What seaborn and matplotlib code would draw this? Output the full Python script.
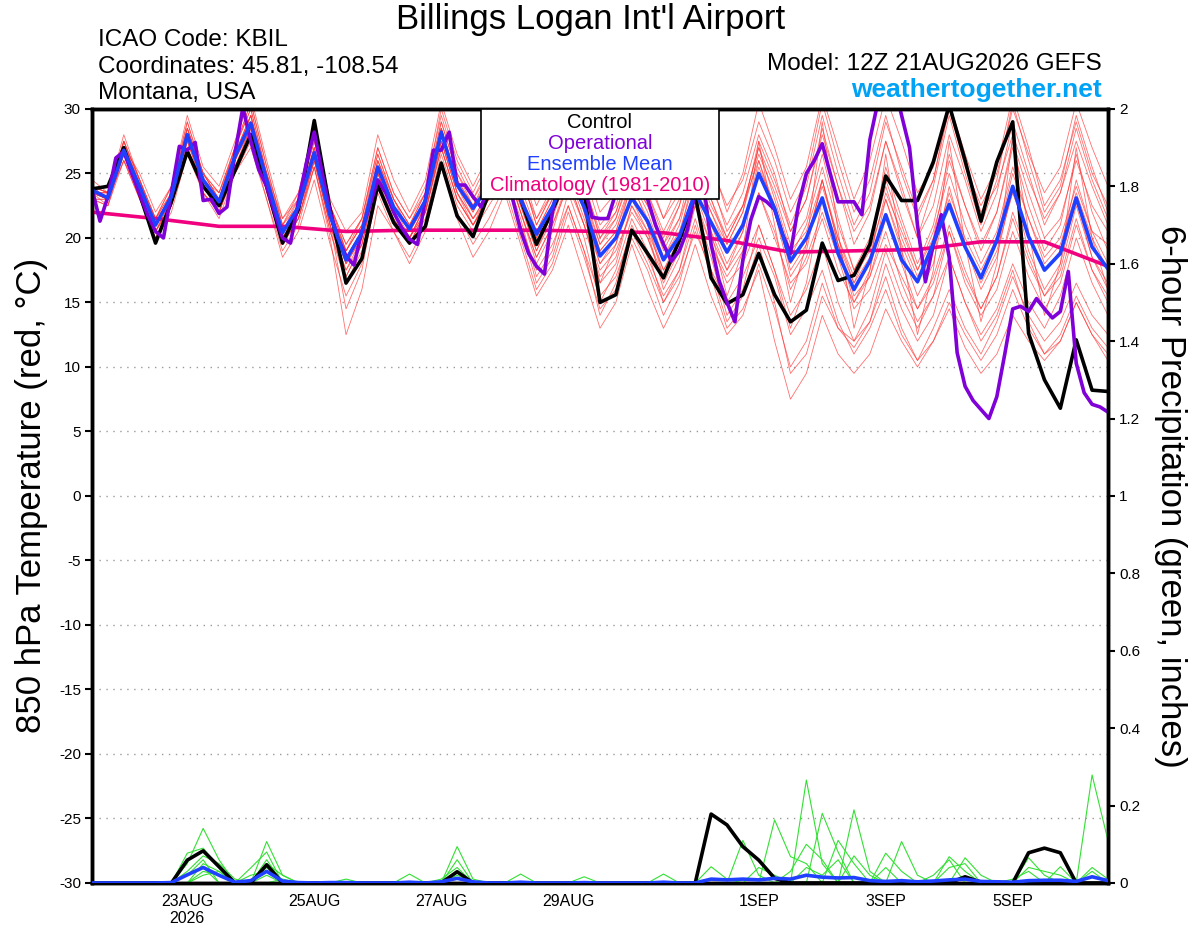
import numpy as np
import pandas as pd
import seaborn as sns
import matplotlib.pyplot as plt
from matplotlib.patches import Rectangle

# forecast hours from 12Z 21AUG2026, 6-hourly
hours = list(range(0, 385, 6))

control = [23.8, 24.0, 27.0, 23.4, 19.6, 22.8, 26.7, 24.0,
           22.5, 25.2, 28.0, 24.0, 19.6, 22.2, 29.1, 22.2,
           16.5, 18.4, 24.1, 21.2, 19.6, 20.9, 25.8, 21.7,
           20.1, 23.5, 26.0, 23.0, 19.5, 22.1, 25.0, 23.5,
           15.0, 15.6, 20.6, 18.8, 16.9, 19.8, 23.3, 16.9,
           14.9, 15.6, 18.8, 15.6, 13.5, 14.4, 19.6, 16.7,
           17.1, 19.5, 24.8, 22.9, 22.9, 25.9, 30.3, 26.0,
           21.3, 25.9, 29.0, 12.6, 9.0, 6.8, 12.1, 8.2,
           8.1]

ens_mean = [23.7, 23.1, 26.8, 24.0, 21.0, 23.2, 28.0, 24.5,
            22.8, 26.3, 28.9, 24.5, 20.4, 22.4, 26.6, 21.7,
            18.3, 20.4, 25.5, 22.4, 20.7, 22.9, 28.2, 24.1,
            22.3, 24.0, 26.0, 23.0, 20.3, 22.4, 25.0, 22.4,
            18.6, 20.0, 23.1, 21.3, 18.3, 20.1, 23.5, 21.2,
            18.9, 21.0, 25.0, 22.3, 18.2, 20.0, 23.1, 18.8,
            16.0, 18.2, 21.8, 18.3, 16.6, 19.6, 22.6, 19.3,
            16.9, 19.8, 24.0, 20.1, 17.5, 18.8, 23.1, 19.3,
            17.6]

# operational run (3-hourly output)
op_hours = [0, 3, 6, 9, 12, 15, 18, 21, 24, 27, 30, 33, 36, 39, 42, 45,
            48, 51, 54, 57, 60, 63, 66, 69, 72, 75, 78, 81, 84, 87, 90, 93,
            96, 99, 102, 105, 108, 111, 114, 117, 120, 123, 126, 129, 132, 135, 138, 141,
            144, 147, 150, 153, 156, 159, 162, 165, 168, 171, 174, 177, 180, 183, 186, 189,
            192, 195, 198, 201, 204, 207, 210, 213, 216, 219, 222, 225, 228, 231, 234, 237,
            240, 243, 246, 249, 252, 255, 258, 261, 264, 267, 270, 273, 276, 279, 282, 285,
            288, 291, 294, 297, 300, 303, 306, 309, 312, 315, 318, 321, 324, 327, 330, 333,
            336, 339, 342, 345, 348, 351, 354, 357, 360, 363, 366, 369, 372, 375, 378, 381,
            384]
op_temp = [23.8, 21.3, 23.2, 26.2, 26.7, 25.0, 23.4, 21.8, 20.5, 20.0, 23.5, 27.1, 26.8, 27.4, 22.9, 23.0,
           21.9, 22.4, 26.5, 30.1, 27.5, 25.3, 24.0, 22.0, 20.0, 19.6, 22.8, 25.8, 28.2, 25.0, 22.0, 20.0,
           18.6, 17.9, 20.5, 22.5, 24.5, 23.5, 22.0, 20.8, 19.9, 19.5, 23.0, 26.8, 26.8, 28.2, 24.1, 24.1,
           23.2, 22.4, 24.0, 25.5, 25.0, 23.0, 20.6, 18.8, 17.8, 17.2, 22.0, 25.0, 26.5, 26.0, 24.0, 21.6,
           21.5, 21.5, 23.5, 26.0, 27.0, 25.0, 23.0, 21.0, 19.5, 18.2, 19.0, 20.6, 23.5, 24.5, 19.5, 16.7,
           15.0, 13.5, 18.3, 21.4, 23.2, 22.8, 22.2, 20.3, 18.8, 22.5, 25.0, 26.0, 27.3, 25.0, 22.8, 22.8,
           22.8, 21.8, 27.6, 30.5, 33.0, 32.0, 29.5, 27.0, 21.0, 16.6, 19.5, 21.8, 18.5, 11.1, 8.5, 7.4,
           6.7, 6.0, 7.7, 11.0, 14.5, 14.7, 14.3, 15.3, 14.5, 13.8, 14.3, 17.4, 10.3, 8.0, 7.1, 6.9,
           6.5]

# 1981-2010 climatology, daily
clim_hours = [0, 24, 48, 72, 96, 120, 144, 168, 192, 216, 240, 264, 288, 312, 336, 360, 384]
clim_temp = [22.0, 21.5, 20.9, 20.9, 20.5, 20.6, 20.6, 20.6, 20.5, 20.4, 19.8, 18.9, 19.0, 19.1, 19.7, 19.7, 17.8]

# ensemble members, 850 hPa temperature
mem_a = [23.5, 23.0, 27.5, 24.5, 21.0, 23.5, 28.5, 25.0, 23.0, 27.0, 30.0, 25.0, 20.5, 23.0, 27.5, 22.5,
         19.0, 21.5, 27.0, 23.5, 21.5, 24.0, 29.5, 25.5, 23.0, 25.5, 28.5, 25.0, 21.0, 23.5, 27.5, 24.5,
         20.0, 21.5, 25.5, 23.5, 20.5, 23.0, 27.0, 24.0, 21.0, 23.5, 28.0, 25.0, 20.5, 23.0, 28.5, 24.0,
         20.5, 22.5, 27.5, 23.5, 20.0, 24.0, 29.5, 25.0, 21.0, 24.5, 30.5, 26.0, 22.0, 24.0, 29.5, 25.5, 22.0]
mem_b = [23.0, 22.5, 26.0, 23.0, 20.0, 22.0, 26.5, 23.5, 21.5, 25.0, 27.5, 23.0, 19.0, 21.0, 25.5, 20.5,
         16.5, 19.0, 24.0, 21.0, 19.5, 21.5, 26.5, 22.5, 20.5, 22.5, 24.5, 21.0, 17.5, 19.5, 22.5, 19.0,
         15.5, 17.0, 20.5, 18.0, 15.0, 17.0, 20.5, 17.5, 15.0, 17.0, 20.0, 17.0, 12.5, 14.5, 17.5, 13.5,
         11.0, 13.0, 16.0, 12.5, 10.5, 13.0, 16.0, 13.0, 11.0, 13.5, 17.0, 14.0, 12.0, 13.5, 16.5, 14.0, 12.5]
mem_c = [24.0, 23.5, 27.0, 24.0, 21.5, 23.5, 28.0, 24.0, 22.5, 26.5, 29.5, 24.0, 20.0, 22.0, 26.0, 21.0,
         17.5, 20.0, 25.5, 22.5, 20.0, 22.5, 28.0, 24.0, 22.0, 24.5, 27.0, 23.5, 20.0, 22.5, 26.0, 22.5,
         19.0, 20.5, 24.0, 21.5, 18.5, 20.5, 24.5, 22.0, 19.5, 22.0, 26.5, 23.5, 19.5, 21.5, 26.5, 21.5,
         17.5, 19.5, 24.0, 20.0, 17.0, 19.5, 23.0, 19.5, 16.5, 19.0, 23.5, 20.0, 17.5, 19.0, 24.5, 20.5, 18.0]
mem_d = [23.5, 23.0, 26.5, 23.5, 20.5, 22.5, 27.5, 24.0, 22.0, 25.5, 28.5, 24.0, 20.0, 21.5, 25.5, 20.0,
         12.5, 16.0, 22.5, 20.5, 18.5, 21.0, 26.0, 22.0, 19.5, 21.5, 24.0, 20.0, 16.0, 18.0, 22.0, 18.5,
         14.5, 16.0, 20.0, 17.5, 14.0, 16.5, 21.0, 17.0, 13.0, 14.5, 17.5, 12.0, 7.5, 9.5, 14.0, 11.0,
         9.5, 11.0, 14.5, 12.0, 10.0, 12.0, 15.0, 12.5, 10.5, 12.5, 16.0, 13.0, 11.0, 12.5, 15.5, 13.0, 11.5]
mem_e = [24.0, 23.5, 27.5, 24.5, 21.5, 24.0, 29.0, 25.0, 23.5, 27.0, 30.5, 25.5, 21.0, 23.0, 27.5, 22.5,
         19.5, 21.5, 27.0, 23.5, 21.5, 23.5, 30.0, 26.0, 23.5, 26.0, 29.0, 25.5, 21.5, 24.0, 28.0, 25.0,
         21.0, 22.5, 26.5, 24.5, 21.5, 23.5, 28.5, 25.5, 22.5, 24.5, 29.0, 26.0, 22.0, 24.5, 30.5, 26.0,
         22.0, 24.5, 29.5, 25.0, 21.5, 24.5, 30.0, 25.5, 22.5, 25.0, 30.0, 26.5, 23.5, 25.5, 30.5, 27.0, 24.0]
mem_f = [23.0, 23.0, 26.0, 23.5, 20.5, 23.0, 27.0, 23.5, 22.0, 25.5, 28.0, 24.0, 19.5, 22.0, 26.5, 21.5,
         18.0, 20.5, 25.0, 22.0, 20.0, 22.0, 27.0, 23.0, 21.0, 23.0, 25.5, 22.0, 18.5, 21.0, 24.0, 21.0,
         17.5, 19.0, 22.0, 20.0, 16.5, 19.0, 22.5, 19.5, 17.0, 19.0, 23.5, 20.5, 16.0, 18.5, 22.0, 18.5,
         14.5, 16.0, 19.5, 17.0, 14.5, 17.0, 21.0, 17.5, 14.5, 17.0, 21.5, 18.0, 15.5, 17.0, 21.5, 17.5, 15.0]
mem_g = [24.5, 23.5, 28.0, 24.5, 21.0, 23.0, 28.0, 24.5, 23.0, 26.0, 29.0, 24.5, 20.5, 22.5, 27.0, 22.0,
         18.5, 20.5, 26.0, 22.5, 20.5, 23.0, 28.5, 24.0, 22.5, 24.0, 26.5, 22.5, 19.0, 22.0, 26.5, 22.0,
         16.5, 19.5, 24.5, 21.0, 17.0, 20.0, 25.5, 20.5, 15.5, 19.0, 27.5, 21.0, 15.0, 19.5, 29.0, 20.5,
         13.0, 17.5, 26.5, 19.0, 12.5, 17.5, 27.5, 19.5, 13.5, 18.0, 28.0, 20.5, 14.0, 18.0, 27.0, 20.0, 16.0]
mem_h = [23.5, 22.5, 26.5, 24.0, 21.0, 23.0, 27.5, 24.5, 23.5, 26.5, 29.0, 25.0, 21.5, 23.0, 27.0, 22.0,
         19.0, 21.0, 25.5, 22.0, 20.0, 22.5, 27.5, 23.5, 21.5, 23.5, 26.0, 23.0, 20.5, 23.0, 26.5, 23.0,
         19.5, 21.0, 24.5, 22.5, 19.5, 21.5, 25.0, 22.0, 19.0, 21.0, 25.0, 22.0, 18.0, 20.0, 24.0, 20.0,
         17.0, 19.0, 23.0, 19.5, 16.5, 19.0, 23.5, 20.0, 17.5, 20.0, 25.0, 21.5, 18.5, 20.0, 24.0, 20.5, 19.5]
mem_i = [23.0, 23.0, 27.0, 24.0, 20.5, 22.5, 28.0, 24.5, 22.5, 26.0, 28.5, 24.0, 19.5, 21.5, 26.0, 21.0,
         17.0, 19.5, 24.5, 21.5, 19.5, 22.0, 27.5, 23.5, 21.5, 23.0, 25.0, 21.5, 17.0, 19.0, 23.5, 20.0,
         15.0, 17.5, 21.5, 19.0, 15.0, 17.5, 22.5, 18.5, 14.0, 16.0, 21.0, 17.5, 13.0, 16.5, 23.0, 19.5,
         16.5, 19.5, 25.5, 21.5, 18.0, 21.0, 26.5, 22.5, 19.0, 22.0, 27.5, 23.5, 20.0, 21.5, 26.0, 22.5, 20.5]
mem_j = [24.0, 23.5, 26.5, 23.5, 21.5, 24.0, 28.5, 25.0, 23.0, 27.0, 30.0, 25.0, 20.5, 22.5, 26.5, 22.5,
         19.5, 21.5, 26.5, 23.0, 21.0, 23.5, 29.0, 25.0, 23.0, 25.0, 27.5, 24.5, 21.5, 23.5, 27.5, 24.0,
         20.5, 22.0, 25.5, 23.5, 20.0, 22.5, 26.5, 23.0, 20.0, 22.5, 27.0, 23.0, 19.0, 20.5, 24.5, 19.5,
         15.5, 17.0, 20.5, 16.5, 13.5, 15.5, 18.5, 15.0, 12.5, 14.5, 18.0, 15.0, 13.0, 15.5, 20.0, 16.5, 14.0]
mem_k = [23.5, 23.5, 27.0, 24.5, 21.5, 23.5, 28.5, 25.0, 23.0, 26.5, 29.5, 24.5, 20.0, 22.0, 26.5, 21.5,
         18.0, 20.0, 25.0, 22.5, 20.5, 22.5, 28.0, 24.0, 22.0, 24.5, 27.0, 23.0, 19.5, 22.0, 25.5, 22.0,
         18.0, 20.0, 23.5, 21.0, 17.5, 20.0, 24.0, 21.0, 18.0, 20.5, 25.5, 22.5, 18.5, 21.0, 25.5, 21.0,
         17.5, 20.0, 24.5, 21.0, 17.5, 20.5, 25.0, 21.0, 18.0, 20.5, 25.5, 21.5, 18.0, 19.5, 23.5, 20.0, 17.5]
mem_l = [23.5, 23.0, 26.5, 24.0, 21.0, 23.0, 28.0, 24.0, 22.5, 26.0, 29.0, 24.0, 20.0, 22.0, 26.5, 21.5,
         18.0, 20.0, 25.5, 22.0, 20.0, 22.5, 28.5, 24.0, 21.5, 23.5, 26.0, 22.0, 18.5, 21.0, 24.5, 21.0,
         17.0, 18.5, 22.5, 20.0, 17.0, 19.0, 23.0, 19.5, 16.5, 18.0, 21.0, 17.5, 14.0, 16.0, 19.5, 15.0,
         12.0, 13.5, 17.0, 13.0, 10.5, 12.0, 14.5, 11.5, 9.5, 11.0, 14.0, 12.0, 10.5, 12.0, 15.0, 12.5, 11.0]
mem_m = [24.0, 23.0, 27.5, 24.0, 21.0, 23.5, 29.0, 25.0, 23.5, 27.0, 30.5, 25.5, 21.0, 23.5, 28.0, 22.5,
         19.0, 21.0, 26.5, 23.0, 21.0, 23.5, 29.0, 25.0, 22.5, 25.0, 28.5, 25.0, 21.0, 23.5, 28.0, 24.0,
         20.0, 22.0, 26.0, 23.0, 19.5, 22.5, 27.5, 24.5, 20.5, 22.5, 27.0, 24.0, 20.5, 23.0, 28.0, 24.0,
         19.5, 22.0, 27.5, 24.0, 20.0, 22.5, 28.0, 24.5, 20.5, 23.5, 29.0, 25.0, 21.0, 23.5, 28.5, 24.5, 21.5]
mem_n = [23.5, 23.5, 26.5, 23.5, 20.5, 23.0, 27.0, 24.0, 22.0, 25.5, 28.0, 24.0, 19.5, 21.5, 26.0, 21.0,
         17.5, 19.5, 25.0, 22.0, 19.5, 22.0, 27.0, 23.0, 21.0, 23.0, 25.5, 22.5, 19.0, 21.5, 25.0, 21.5,
         18.0, 19.5, 23.0, 20.5, 17.5, 19.5, 23.5, 20.0, 17.5, 19.5, 23.5, 20.0, 16.5, 18.0, 21.5, 17.5,
         15.0, 17.0, 21.5, 18.0, 14.5, 16.5, 20.5, 16.5, 14.0, 16.0, 20.5, 17.0, 14.5, 16.5, 21.0, 17.5, 15.5]
mem_o = [23.0, 22.5, 27.0, 25.0, 22.0, 24.0, 29.5, 25.5, 24.0, 27.5, 31.0, 26.0, 21.5, 23.5, 28.5, 23.0,
         20.5, 22.0, 28.0, 24.5, 22.0, 24.5, 30.5, 26.5, 24.0, 26.5, 29.5, 26.0, 22.5, 25.0, 29.0, 26.0,
         22.0, 23.5, 27.5, 25.0, 21.5, 24.5, 29.5, 26.0, 22.0, 25.0, 30.5, 27.0, 23.0, 25.5, 31.0, 27.0,
         23.0, 26.0, 31.0, 27.5, 23.5, 25.5, 30.0, 26.0, 22.0, 24.0, 28.0, 24.5, 21.5, 23.5, 27.5, 24.0, 21.0]
mem_p = [24.0, 23.0, 26.0, 23.0, 20.0, 22.5, 27.0, 23.5, 22.0, 25.0, 27.0, 23.0, 18.5, 20.5, 24.5, 19.5,
         15.5, 18.0, 23.5, 20.5, 18.0, 20.5, 25.5, 21.5, 18.5, 20.5, 23.5, 19.5, 15.5, 17.5, 21.0, 17.0,
         13.0, 15.0, 19.5, 16.0, 13.0, 15.5, 19.5, 15.5, 12.5, 14.0, 18.0, 14.5, 10.0, 12.0, 16.5, 13.0,
         12.0, 14.5, 19.0, 15.5, 13.0, 15.5, 20.5, 17.0, 14.5, 17.0, 22.0, 18.5, 15.5, 17.5, 22.5, 18.5, 16.0]
mem_q = [23.5, 23.5, 27.5, 24.5, 21.5, 23.0, 27.5, 24.0, 23.0, 26.0, 29.5, 25.0, 21.0, 22.5, 27.0, 22.0,
         19.0, 21.0, 26.0, 23.0, 20.5, 23.0, 28.5, 24.5, 22.5, 24.0, 26.5, 23.5, 20.0, 22.5, 26.5, 23.0,
         19.0, 20.5, 24.5, 22.0, 18.5, 21.0, 25.5, 22.5, 20.0, 22.5, 26.0, 22.5, 17.5, 19.5, 24.5, 20.0,
         16.5, 18.5, 23.5, 20.5, 17.5, 20.0, 26.0, 22.5, 19.5, 22.0, 27.0, 22.5, 19.0, 21.0, 26.5, 22.0, 19.0]
mem_r = [23.5, 23.0, 26.5, 24.0, 21.0, 23.0, 27.0, 24.0, 22.5, 26.0, 28.5, 24.0, 20.0, 22.0, 26.0, 21.0,
         14.5, 17.5, 24.0, 21.5, 19.5, 22.0, 27.0, 23.0, 21.0, 23.0, 25.0, 21.0, 16.5, 18.5, 22.5, 19.0,
         14.0, 16.5, 21.0, 18.5, 15.5, 17.5, 21.5, 17.5, 13.5, 15.5, 19.5, 15.0, 9.5, 11.0, 15.5, 13.0,
         11.5, 13.5, 18.0, 14.5, 12.0, 14.0, 18.5, 15.0, 12.0, 14.0, 17.5, 13.5, 11.0, 12.0, 15.0, 12.5, 10.5]
mem_s = [24.0, 23.5, 27.0, 24.0, 21.0, 23.5, 28.5, 24.5, 23.0, 26.5, 29.5, 24.5, 20.5, 22.5, 27.0, 22.0,
         18.5, 20.5, 26.0, 23.0, 21.0, 23.0, 28.5, 24.5, 22.5, 24.5, 27.5, 24.0, 20.5, 23.0, 27.0, 23.5,
         19.5, 21.5, 25.0, 22.5, 19.0, 21.5, 26.5, 23.0, 19.5, 22.0, 27.5, 24.5, 21.0, 24.0, 29.5, 25.0,
         21.0, 23.5, 29.0, 25.5, 22.0, 24.5, 30.5, 26.5, 23.0, 25.5, 31.0, 27.0, 22.5, 24.5, 29.0, 25.0, 22.5]
mem_t = [23.5, 23.0, 26.5, 23.5, 20.5, 22.5, 27.0, 23.5, 22.0, 25.5, 28.5, 23.5, 19.5, 21.5, 25.5, 20.5,
         17.0, 19.5, 25.0, 22.0, 20.0, 22.0, 27.5, 23.5, 21.0, 23.5, 26.0, 22.0, 18.0, 20.5, 24.5, 21.0,
         16.5, 18.0, 22.5, 20.5, 16.0, 18.5, 24.0, 20.5, 17.5, 20.5, 26.0, 22.0, 17.0, 19.0, 24.5, 19.5,
         15.0, 17.5, 23.0, 19.0, 15.5, 18.0, 24.0, 19.5, 16.0, 18.5, 24.0, 19.0, 16.0, 18.0, 23.0, 18.5, 16.5]
temp_members = [mem_a, mem_b, mem_c, mem_d, mem_e, mem_f, mem_g, mem_h, mem_i, mem_j,
                mem_k, mem_l, mem_m, mem_n, mem_o, mem_p, mem_q, mem_r, mem_s, mem_t]

# 6-hour precipitation (inches)
control_pcp = [0, 0, 0, 0, 0, 0, 0.059, 0.083, 0.042, 0, 0, 0.047, 0, 0, 0, 0,
               0, 0, 0, 0, 0, 0, 0, 0.029, 0, 0, 0, 0, 0, 0, 0, 0,
               0, 0, 0, 0, 0, 0, 0, 0.178, 0.150, 0.094, 0.059, 0.012, 0, 0, 0, 0,
               0, 0, 0, 0, 0, 0, 0, 0.016, 0.002, 0.002, 0, 0.078, 0.090, 0.078, 0, 0, 0]
mean_pcp = [0, 0, 0, 0, 0, 0.001, 0.021, 0.040, 0.020, 0.002, 0.006, 0.030, 0.005, 0.001, 0, 0.001,
            0.001, 0, 0, 0, 0.002, 0, 0.003, 0.012, 0.003, 0, 0, 0.002, 0, 0, 0, 0.001,
            0, 0, 0, 0, 0.002, 0, 0, 0.010, 0.008, 0.010, 0.008, 0.012, 0.010, 0.020, 0.015, 0.013,
            0.014, 0.006, 0.004, 0.006, 0.003, 0.005, 0.008, 0.010, 0.004, 0.003, 0.002, 0.006, 0.007, 0.007, 0.004, 0.016, 0.006]
pcp_1 = [0, 0, 0, 0, 0, 0, 0.050, 0.141, 0.060, 0, 0, 0.107, 0.020, 0, 0, 0,
         0, 0, 0, 0, 0, 0, 0, 0.094, 0.010, 0, 0, 0, 0, 0, 0, 0,
         0, 0, 0, 0, 0, 0, 0, 0, 0, 0, 0, 0, 0, 0.266, 0.050, 0,
         0, 0, 0, 0, 0, 0, 0, 0, 0, 0, 0, 0, 0, 0, 0, 0.279, 0.110]
pcp_2 = [0, 0, 0, 0, 0, 0, 0.077, 0.090, 0.040, 0, 0.039, 0.080, 0, 0, 0, 0,
         0, 0, 0, 0, 0, 0, 0, 0.060, 0, 0, 0, 0, 0, 0, 0, 0,
         0, 0, 0, 0, 0, 0, 0, 0, 0, 0.110, 0.020, 0, 0, 0, 0, 0,
         0.189, 0.030, 0, 0, 0, 0, 0, 0, 0, 0, 0, 0, 0, 0, 0, 0.040, 0.010]
pcp_3 = [0, 0, 0, 0, 0, 0, 0.030, 0.070, 0.050, 0.010, 0, 0.060, 0, 0, 0, 0,
         0, 0, 0, 0, 0.023, 0, 0, 0, 0, 0, 0, 0, 0, 0, 0, 0,
         0, 0, 0, 0, 0, 0, 0, 0, 0, 0, 0, 0.163, 0.068, 0.050, 0, 0,
         0, 0, 0, 0, 0, 0, 0.068, 0.030, 0, 0, 0, 0, 0, 0, 0, 0, 0]
pcp_4 = [0, 0, 0, 0, 0, 0, 0, 0.050, 0.030, 0, 0, 0.040, 0, 0, 0, 0,
         0.010, 0, 0, 0, 0, 0, 0.010, 0.040, 0, 0, 0, 0, 0, 0, 0, 0,
         0, 0, 0, 0, 0, 0, 0, 0, 0, 0, 0, 0, 0, 0, 0.180, 0.080,
         0, 0, 0.077, 0.030, 0, 0, 0, 0, 0, 0, 0, 0.065, 0.020, 0, 0, 0, 0]
pcp_5 = [0, 0, 0, 0, 0, 0, 0.020, 0.040, 0, 0, 0.020, 0.030, 0, 0, 0, 0,
         0, 0, 0, 0, 0, 0, 0, 0, 0, 0, 0, 0.023, 0, 0, 0, 0,
         0, 0, 0, 0, 0, 0, 0, 0.042, 0.010, 0, 0, 0, 0, 0, 0, 0.110,
         0.050, 0, 0, 0, 0, 0, 0, 0.065, 0.020, 0, 0, 0, 0, 0.042, 0, 0, 0]
pcp_6 = [0, 0, 0, 0, 0, 0, 0, 0.030, 0.020, 0, 0, 0.020, 0, 0, 0, 0,
         0, 0, 0, 0, 0, 0, 0, 0, 0, 0, 0, 0, 0, 0, 0, 0.016,
         0, 0, 0, 0, 0.023, 0, 0, 0, 0, 0, 0, 0, 0.030, 0.100, 0.060, 0,
         0, 0, 0, 0.107, 0.020, 0, 0.040, 0.050, 0, 0, 0, 0, 0, 0, 0, 0, 0]
pcp_7 = [0, 0, 0, 0, 0, 0, 0.020, 0.060, 0, 0, 0, 0, 0.010, 0, 0, 0,
         0, 0, 0, 0, 0, 0, 0, 0.020, 0, 0, 0, 0, 0, 0, 0, 0,
         0, 0, 0, 0, 0, 0, 0, 0, 0, 0, 0.040, 0.020, 0, 0, 0, 0,
         0.070, 0.020, 0, 0, 0, 0, 0, 0, 0, 0, 0, 0.040, 0.030, 0.020, 0, 0.030, 0]
pcp_8 = [0, 0, 0, 0, 0, 0, 0, 0.020, 0.030, 0, 0, 0.050, 0.020, 0, 0, 0,
         0, 0, 0, 0, 0, 0, 0, 0, 0, 0, 0, 0, 0, 0, 0, 0,
         0, 0, 0, 0, 0, 0, 0, 0, 0, 0, 0, 0, 0, 0.040, 0.020, 0.060,
         0, 0, 0.040, 0, 0, 0.020, 0.060, 0, 0, 0, 0.010, 0.030, 0, 0, 0, 0, 0]
pcp_members = [pcp_1, pcp_2, pcp_3, pcp_4, pcp_5, pcp_6, pcp_7, pcp_8]

tick_hours = [36, 84, 132, 180, 252, 300, 348]
tick_labels = ["23AUG\n2026", "25AUG", "27AUG", "29AUG", "1SEP", "3SEP", "5SEP"]

sns.set_style("white")
plt.rcParams['font.family'] = ['Liberation Sans', 'DejaVu Sans']
plt.rcParams['text.color'] = 'black'
plt.rcParams['axes.labelcolor'] = 'black'
plt.rcParams['xtick.color'] = 'black'
plt.rcParams['ytick.color'] = 'black'

temp_df = pd.DataFrame({
    'hour': np.tile(hours, len(temp_members)),
    'member': np.repeat(np.arange(len(temp_members)), len(hours)),
    'temp': np.concatenate(temp_members),
})
pcp_df = pd.DataFrame({
    'hour': np.tile(hours, len(pcp_members)),
    'member': np.repeat(np.arange(len(pcp_members)), len(hours)),
    'pcp': np.concatenate(pcp_members),
})

fig = plt.figure(figsize=(12, 9.27), dpi=100)
ax = fig.add_axes([0.0767, 0.0475, 0.8466, 0.835])
ax2 = ax.twinx()

# temperature (left axis)
sns.lineplot(data=temp_df, x='hour', y='temp', units='member', estimator=None,
             color='#ff3333', lw=0.6, alpha=0.7, ax=ax, legend=False, zorder=2)
sns.lineplot(x=clim_hours, y=clim_temp, color='#f0007f', lw=2.6, ax=ax, zorder=3)
sns.lineplot(x=hours, y=control, color='black', lw=2.6, ax=ax, zorder=4)
sns.lineplot(x=op_hours, y=op_temp, color='#8000d8', lw=2.6, ax=ax, zorder=5)
sns.lineplot(x=hours, y=ens_mean, color='#2040ff', lw=2.6, ax=ax, zorder=6)

# precipitation (right axis)
sns.lineplot(data=pcp_df, x='hour', y='pcp', units='member', estimator=None,
             color='#33e033', lw=0.8, ax=ax2, legend=False, zorder=2)
sns.lineplot(x=hours, y=control_pcp, color='black', lw=2.6, ax=ax2, zorder=3)
sns.lineplot(x=hours, y=mean_pcp, color='#2040ff', lw=2.6, ax=ax2, zorder=4)

ax.set_xlim(0, 384)
ax.set_ylim(-30, 30)
ax2.set_ylim(0, 2)

ax.set_yticks(range(-30, 31, 5))
ax.set_yticklabels([str(v) for v in range(-30, 31, 5)])
ax2.set_yticks(np.arange(0, 2.01, 0.2))
ax2.set_yticklabels(['0', '0.2', '0.4', '0.6', '0.8', '1', '1.2', '1.4', '1.6', '1.8', '2'])
ax.set_xticks(tick_hours)
ax.set_xticklabels(tick_labels)

for a in (ax, ax2):
    a.tick_params(direction='out', length=5, width=1.5, labelsize=11, pad=3, colors='black')
    a.set_xlabel('')
    a.set_ylabel('')
    for s in a.spines.values():
        s.set_linewidth(2.5)
        s.set_color('black')
ax.tick_params(axis='x', labelsize=11.5)

ax.yaxis.grid(True, linestyle=(0, (1, 4)), color='#999999', lw=1)
ax.set_axisbelow(True)

# legend box
ax2.add_patch(Rectangle((0.383, 0.884), 0.234, 0.116, transform=ax2.transAxes,
                        facecolor='white', edgecolor='black', lw=1.2, zorder=20))
leg_items = [("Control", 'black'), ("Operational", '#8000d8'),
             ("Ensemble Mean", '#2040ff'), ("Climatology (1981-2010)", '#f0007f')]
for k, (name, col) in enumerate(leg_items):
    ax2.text(0.5, 0.983 - k * 0.0275, name, color=col, fontsize=14.5, ha='center', va='center',
             transform=ax2.transAxes, zorder=21)

# header texts
fig.text(0.492, 0.979, "Billings Logan Int'l Airport", fontsize=25, ha='center', va='center')
fig.text(0.082, 0.957, "ICAO Code: KBIL", fontsize=17.5, ha='left', va='center')
fig.text(0.082, 0.928, "Coordinates: 45.81, -108.54", fontsize=17.5, ha='left', va='center')
fig.text(0.082, 0.900, "Montana, USA", fontsize=17.5, ha='left', va='center')
fig.text(0.918, 0.931, "Model: 12Z 21AUG2026 GEFS", fontsize=17.5, ha='right', va='center')
fig.text(0.918, 0.903, "weathertogether.net", fontsize=19, ha='right', va='center',
         color='#00a2f5', fontweight='bold')

fig.text(0.026, 0.466, "850 hPa Temperature (red, °C)", fontsize=25, rotation=90,
         ha='center', va='center')
fig.text(0.975, 0.465, "6-hour Precipitation (green, inches)", fontsize=25, rotation=-90,
         ha='center', va='center')

fig.savefig("out.png", dpi=100)
